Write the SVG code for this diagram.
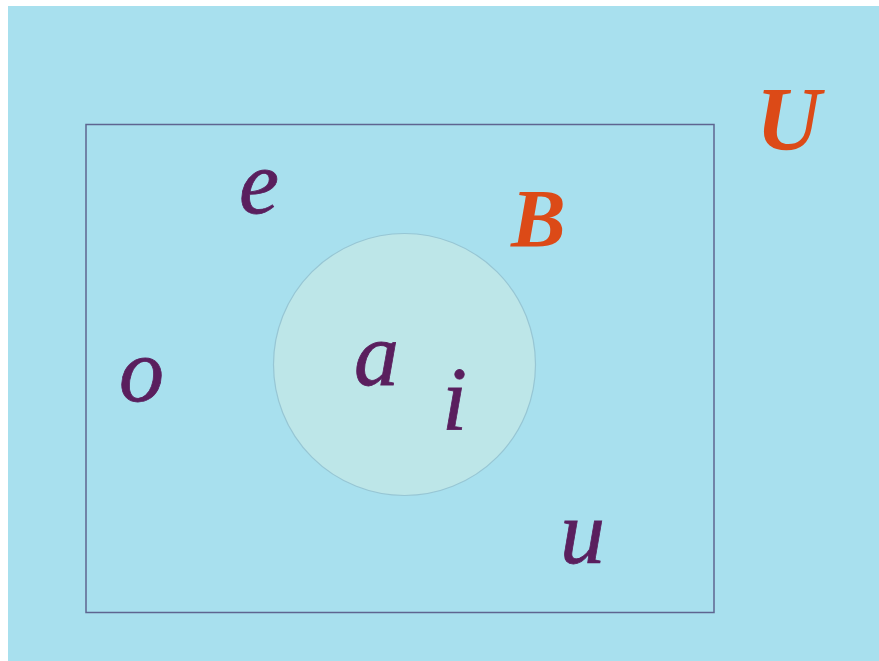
<svg xmlns="http://www.w3.org/2000/svg" width="879" height="661" viewBox="0 0 879 661">
<style>
.l{font-family:"Liberation Serif","Times New Roman",serif;font-style:italic;font-size:90px;fill:#5a1f5e;stroke:#5a1f5e;stroke-width:0.8}
.c{font-family:"Liberation Serif","Times New Roman",serif;font-style:italic;font-weight:bold;fill:#dc4a17}
</style>
<rect x="0" y="0" width="879" height="661" fill="#ffffff"/>
<rect x="8" y="6" width="871" height="655" fill="#a8e0ee"/>
<g id="universe">
<rect x="86" y="124.5" width="628" height="488" fill="none" stroke="#5e6590" stroke-width="1.5"/>
<text class="c" x="756" y="150" font-size="90">U</text>
</g>
<g id="setB">
<circle cx="404.5" cy="364.5" r="131" fill="#bde6e8" stroke="#97c6d4" stroke-width="1.2"/>
<text class="c" x="511" y="246" font-size="82">B</text>
</g>
<g id="elements">
<text class="l" x="354" y="385">a</text>
<text class="l" x="442" y="430">i</text>
<text class="l" x="239" y="213">e</text>
<text class="l" x="119" y="401">o</text>
<text class="l" x="560" y="563">u</text>
</g>
</svg>
